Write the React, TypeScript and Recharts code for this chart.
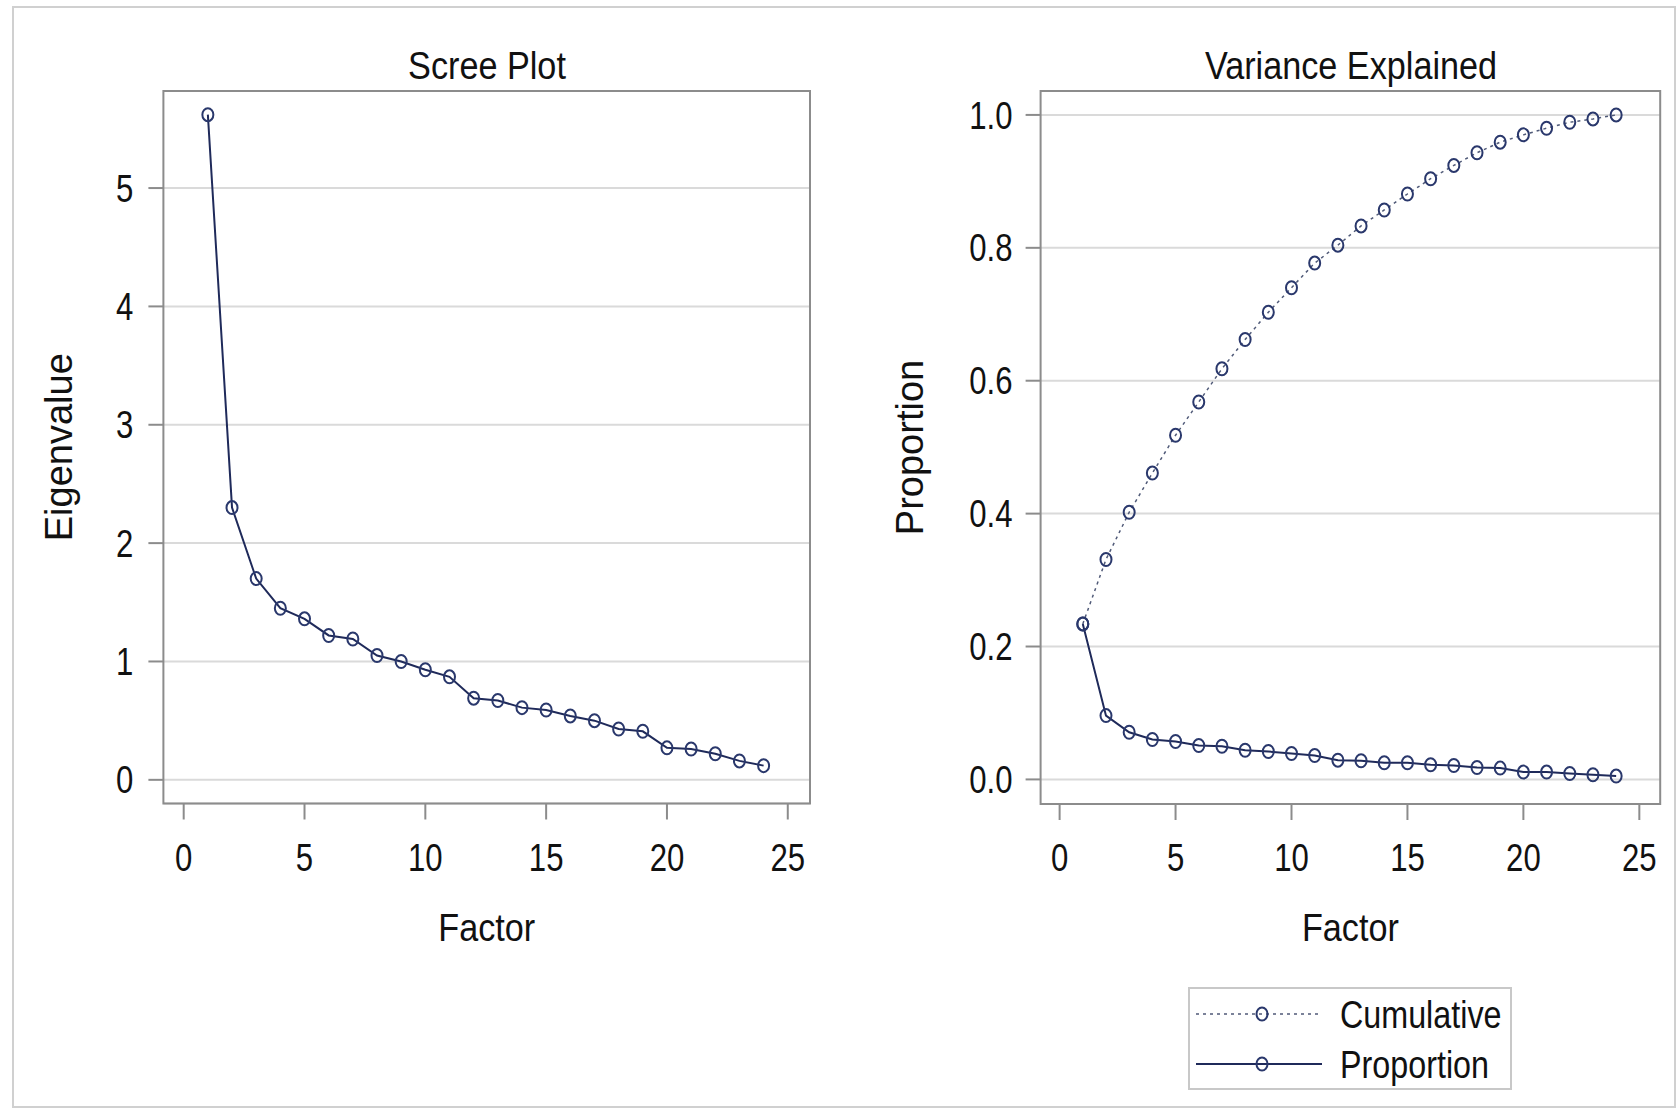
import React from "react";
import {
  LineChart,
  Line,
  XAxis,
  YAxis,
  CartesianGrid,
  ReferenceArea,
} from "recharts";

// factor numbers (x)
const factors = [1, 2, 3, 4, 5, 6, 7, 8, 9, 10, 11, 12, 13, 14, 15, 16, 17, 18, 19, 20, 21, 22, 23, 24];

// scree plot
const eigenvalues = [5.62, 2.3, 1.7, 1.45, 1.36, 1.22, 1.19, 1.05, 1.0, 0.93, 0.87, 0.69, 0.67, 0.61, 0.59, 0.54, 0.5, 0.43, 0.41, 0.27, 0.26, 0.22, 0.16, 0.12];

// variance explained
const proportion = [0.234, 0.096, 0.071, 0.06, 0.057, 0.051, 0.05, 0.044, 0.042, 0.039, 0.036, 0.029, 0.028, 0.025, 0.025, 0.022, 0.021, 0.018, 0.017, 0.011, 0.011, 0.009, 0.007, 0.005];
const cumulative = [0.234, 0.331, 0.402, 0.461, 0.518, 0.568, 0.618, 0.662, 0.703, 0.74, 0.777, 0.804, 0.833, 0.857, 0.881, 0.904, 0.924, 0.943, 0.959, 0.97, 0.98, 0.989, 0.994, 1.0];

const xTicks = [0, 5, 10, 15, 20, 25];
const screeTicks = [0, 1, 2, 3, 4, 5];
const varTicks = [0, 0.2, 0.4, 0.6, 0.8, 1.0];

const screeData = factors.map((f, i) => ({ factor: f, eigen: eigenvalues[i] }));
const varData = factors.map((f, i) => ({
  factor: f,
  proportion: proportion[i],
  cumulative: cumulative[i],
}));

// no Arial Narrow here: squeeze Liberation Sans instead
const FONT = "'Liberation Sans', Arial, sans-serif";
const SQUEEZE = 0.82; // tick labels
const SQUEEZE_TITLE = 0.9; // titles, axis labels
const SQUEEZE_LEGEND = 0.85;
const INK = "#111111";
const FRAME = "#8c8c8c";
const GRID = "#dadada";
const NAVY = "#1f2a5a";
const MARK = "#2a386c";
const DOTTED = "#505a78";
const FS = 38;

const tickLine = { stroke: FRAME, strokeWidth: 2 };

function NarrowText({
  x,
  y,
  anchor = "start",
  squeeze = SQUEEZE,
  children,
}: {
  x: number;
  y: number;
  anchor?: "start" | "middle" | "end";
  squeeze?: number;
  children: React.ReactNode;
}) {
  return (
    <text
      transform={`translate(${x} ${y}) scale(${squeeze} 1)`}
      textAnchor={anchor}
      fontSize={FS}
      fontFamily={FONT}
      fill={INK}
    >
      {children}
    </text>
  );
}

// baseline offsets so digits sit like the original (cap height ~0.716em)
const xTick = (props: any) => {
  const { x, y, payload, index } = props;
  return (
    <g key={`xt-${index}`}>
      <NarrowText x={x} y={y + 27} anchor="middle">
        {String(payload.value)}
      </NarrowText>
    </g>
  );
};

const yTick = (fmt: (v: number) => string) => (props: any) => {
  const { x, y, payload, index } = props;
  return (
    <g key={`yt-${index}`}>
      <NarrowText x={x} y={y + 13.6} anchor="end">
        {fmt(payload.value)}
      </NarrowText>
    </g>
  );
};

const dot = (props: any) => {
  const { cx, cy, index } = props;
  if (cx == null || cy == null) return <g key={`d-${index}`} />;
  return (
    <ellipse
      key={`d-${index}`}
      cx={cx}
      cy={cy}
      rx={5.5}
      ry={6.5}
      fill="none"
      stroke={MARK}
      strokeWidth={2}
    />
  );
};

const xLabel = (text: string, dy: number) => (props: any) => {
  const vb = props.viewBox || {};
  return (
    <NarrowText
      x={vb.x + vb.width / 2}
      y={vb.y + dy + 13.6}
      anchor="middle"
      squeeze={SQUEEZE_TITLE}
    >
      {text}
    </NarrowText>
  );
};

const yLabel = (text: string, dx: number) => (props: any) => {
  const vb = props.viewBox || {};
  const cx = vb.x + vb.width + dx;
  const cy = vb.y + vb.height / 2;
  return (
    <text
      x={cx}
      y={cy}
      transform={`rotate(-90 ${cx} ${cy})`}
      textAnchor="middle"
      dominantBaseline="central"
      fontSize={FS}
      fontFamily={FONT}
      fill={INK}
    >
      {text}
    </text>
  );
};

function Title({ text, cx }: { text: string; cx: number }) {
  return (
    <div
      style={{
        position: "absolute",
        left: cx - 250,
        top: 44,
        width: 500,
        lineHeight: "44px",
        textAlign: "center",
        fontSize: FS,
        fontFamily: FONT,
        color: INK,
        transform: `scaleX(${SQUEEZE_TITLE})`,
        transformOrigin: "50% 50%",
      }}
    >
      {text}
    </div>
  );
}

function VarLegend() {
  return (
    <div
      style={{
        position: "absolute",
        left: 1188,
        top: 987,
        width: 320,
        height: 99,
        border: "2px solid #c8c8c8",
      }}
    >
      <svg width={320} height={99} style={{ overflow: "visible" }}>
        <line x1={6} x2={132} y1={25} y2={25} stroke={DOTTED} strokeWidth={1.5} strokeDasharray="3 4" />
        <ellipse cx={72} cy={25} rx={5.5} ry={6.5} fill="none" stroke={MARK} strokeWidth={2} />
        <NarrowText x={150} y={25 + 13.6} squeeze={SQUEEZE_LEGEND}>
          Cumulative
        </NarrowText>
        <line x1={6} x2={132} y1={75} y2={75} stroke={NAVY} strokeWidth={2} />
        <ellipse cx={72} cy={75} rx={5.5} ry={6.5} fill="none" stroke={MARK} strokeWidth={2} />
        <NarrowText x={150} y={75 + 13.6} squeeze={SQUEEZE_LEGEND}>
          Proportion
        </NarrowText>
      </svg>
    </div>
  );
}

export default function App() {
  return (
    <div style={{ position: "absolute", left: 0, top: 0, width: 1679, height: 1118, background: "#fff" }}>
      <div
        style={{
          position: "absolute",
          left: 12,
          top: 6,
          width: 1660,
          height: 1098,
          border: "2px solid #d0d0d0",
        }}
      />
      <Title text="Scree Plot" cx={487} />
      <Title text="Variance Explained" cx={1351} />

      <div style={{ position: "absolute", left: 0, top: 0 }}>
        <LineChart
          width={840}
          height={1000}
          data={screeData}
          margin={{ top: 91, right: 30, bottom: 116.5, left: 63.4 }}
        >
          <CartesianGrid vertical={false} stroke={GRID} strokeWidth={2} />
          <XAxis
            dataKey="factor"
            type="number"
            domain={[-0.84, 25.92]}
            ticks={xTicks}
            allowDataOverflow
            height={80}
            axisLine={false}
            tickLine={tickLine}
            tickSize={16}
            tickMargin={24}
            tick={xTick}
            label={{ content: xLabel("Factor", 123.5) }}
          />
          <YAxis
            type="number"
            domain={[-0.2, 5.82]}
            ticks={screeTicks}
            allowDataOverflow
            width={100}
            axisLine={false}
            tickLine={tickLine}
            tickSize={15}
            tickMargin={15}
            tick={yTick((v) => String(v))}
            label={{ content: yLabel("Eigenvalue", -104.4) }}
          />
          <ReferenceArea
            x1={-0.84}
            x2={25.92}
            y1={-0.2}
            y2={5.82}
            fill="none"
            fillOpacity={0}
            stroke={FRAME}
            strokeWidth={2}
            ifOverflow="visible"
          />
          <Line
            type="linear"
            dataKey="eigen"
            stroke={NAVY}
            strokeWidth={2}
            dot={dot}
            activeDot={false}
            isAnimationActive={false}
          />
        </LineChart>
      </div>

      <div style={{ position: "absolute", left: 840, top: 0 }}>
        <LineChart
          width={839}
          height={1000}
          data={varData}
          margin={{ top: 91, right: 18.8, bottom: 116, left: 90.6 }}
        >
          <CartesianGrid vertical={false} stroke={GRID} strokeWidth={2} />
          <XAxis
            dataKey="factor"
            type="number"
            domain={[-0.82, 25.9]}
            ticks={xTicks}
            allowDataOverflow
            height={80}
            axisLine={false}
            tickLine={tickLine}
            tickSize={16}
            tickMargin={24}
            tick={xTick}
            label={{ content: xLabel("Factor", 123) }}
          />
          <YAxis
            type="number"
            domain={[-0.037, 1.036]}
            ticks={varTicks}
            allowDataOverflow
            width={110}
            axisLine={false}
            tickLine={tickLine}
            tickSize={15}
            tickMargin={13}
            tick={yTick((v) => v.toFixed(1))}
            label={{ content: yLabel("Proportion", -130.6) }}
          />
          <ReferenceArea
            x1={-0.82}
            x2={25.9}
            y1={-0.037}
            y2={1.036}
            fill="none"
            fillOpacity={0}
            stroke={FRAME}
            strokeWidth={2}
            ifOverflow="visible"
          />
          <Line
            type="linear"
            dataKey="cumulative"
            stroke={DOTTED}
            strokeWidth={1.5}
            strokeDasharray="3 4"
            dot={dot}
            activeDot={false}
            isAnimationActive={false}
          />
          <Line
            type="linear"
            dataKey="proportion"
            stroke={NAVY}
            strokeWidth={2}
            dot={dot}
            activeDot={false}
            isAnimationActive={false}
          />
        </LineChart>
      </div>

      <VarLegend />
    </div>
  );
}
